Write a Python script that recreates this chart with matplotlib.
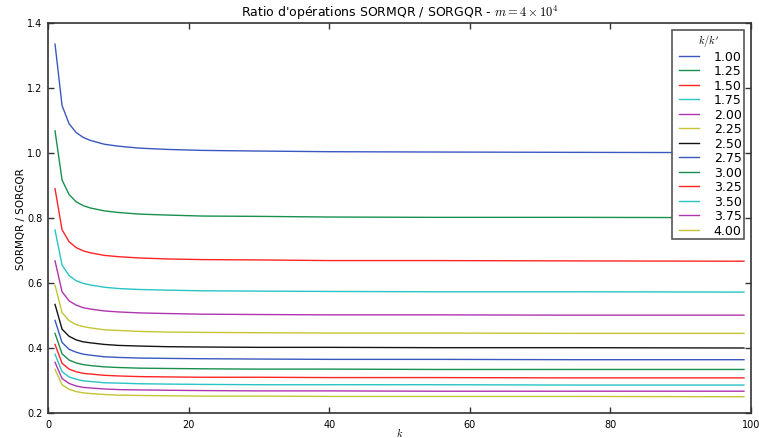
import matplotlib
matplotlib.use("Agg")
import matplotlib.pyplot as plt

# Values of k at which the ratio is plotted
k = [1, 2, 3, 4, 5, 6, 8, 10, 13, 17, 22, 30, 40, 55, 75, 99]

# Ratio of k over k'
ratios = ["1.00", "1.25", "1.50", "1.75", "2.00", "2.25", "2.50",
          "2.75", "3.00", "3.25", "3.50", "3.75", "4.00"]

# SORMQR / SORGQR operation ratio, one list per k/k'
r_100 = [1.335, 1.146, 1.090, 1.063, 1.048, 1.039, 1.027, 1.021, 1.015, 1.011, 1.008, 1.006, 1.004, 1.003, 1.002, 1.001]
r_125 = [1.068, 0.917, 0.872, 0.850, 0.838, 0.831, 0.822, 0.817, 0.812, 0.809, 0.806, 0.805, 0.803, 0.802, 0.802, 0.801]
r_150 = [0.890, 0.764, 0.727, 0.709, 0.699, 0.693, 0.685, 0.681, 0.677, 0.674, 0.672, 0.671, 0.669, 0.669, 0.668, 0.667]
r_175 = [0.763, 0.655, 0.623, 0.607, 0.599, 0.594, 0.587, 0.583, 0.580, 0.578, 0.576, 0.575, 0.574, 0.573, 0.573, 0.572]
r_200 = [0.668, 0.573, 0.545, 0.532, 0.524, 0.520, 0.514, 0.511, 0.508, 0.506, 0.504, 0.503, 0.502, 0.502, 0.501, 0.501]
r_225 = [0.593, 0.509, 0.484, 0.472, 0.466, 0.462, 0.456, 0.454, 0.451, 0.449, 0.448, 0.447, 0.446, 0.446, 0.445, 0.445]
r_250 = [0.534, 0.458, 0.436, 0.425, 0.419, 0.416, 0.411, 0.408, 0.406, 0.404, 0.403, 0.402, 0.402, 0.401, 0.401, 0.400]
r_275 = [0.485, 0.417, 0.396, 0.387, 0.381, 0.378, 0.373, 0.371, 0.369, 0.368, 0.367, 0.366, 0.365, 0.365, 0.364, 0.364]
r_300 = [0.445, 0.382, 0.363, 0.354, 0.349, 0.346, 0.342, 0.340, 0.338, 0.337, 0.336, 0.335, 0.335, 0.334, 0.334, 0.334]
r_325 = [0.411, 0.353, 0.335, 0.327, 0.322, 0.320, 0.316, 0.314, 0.312, 0.311, 0.310, 0.310, 0.309, 0.309, 0.308, 0.308]
r_350 = [0.381, 0.327, 0.311, 0.304, 0.299, 0.297, 0.293, 0.292, 0.290, 0.289, 0.288, 0.287, 0.287, 0.287, 0.286, 0.286]
r_375 = [0.356, 0.306, 0.291, 0.283, 0.279, 0.277, 0.274, 0.272, 0.271, 0.270, 0.269, 0.268, 0.268, 0.267, 0.267, 0.267]
r_400 = [0.334, 0.287, 0.273, 0.266, 0.262, 0.260, 0.257, 0.255, 0.254, 0.253, 0.252, 0.252, 0.251, 0.251, 0.251, 0.250]

series = [r_100, r_125, r_150, r_175, r_200, r_225, r_250,
          r_275, r_300, r_325, r_350, r_375, r_400]

plt.style.use("classic")
plt.rcParams["mathtext.fontset"] = "cm"
plt.rcParams["font.family"] = "DejaVu Sans"

colors = ["#3a58c0", "#18904e", "#ff2424", "#28c4c4", "#b034b0", "#c4c434", "#141414"]

fig = plt.figure(figsize=(7.59, 4.39), dpi=100, facecolor="white")
ax = fig.add_axes([48 / 759, 1 - 414 / 439, (751 - 48) / 759, (414 - 24) / 439])

for i, (lab, vals) in enumerate(zip(ratios, series)):
    ax.plot(k, vals, color=colors[i % len(colors)], lw=1.0, label=lab)

ax.set_xlim(0, 100)
ax.set_ylim(0.2, 1.4)
ax.set_xticks([0, 20, 40, 60, 80, 100])
ax.set_yticks([0.2, 0.4, 0.6, 0.8, 1.0, 1.2, 1.4])
ax.tick_params(labelsize=7, length=4, width=1, color="#333333", pad=4)
for s in ax.spines.values():
    s.set_color("#333333")
    s.set_linewidth(1.2)

ax.set_title(r"Ratio d'opérations SORMQR / SORGQR - $m = 4 \times 10^4$",
             fontsize=9, pad=5)
ax.set_xlabel(r"$k$", fontsize=7.5)
ax.xaxis.set_label_coords(0.5, -0.031)
ax.set_ylabel("SORMQR / SORGQR", fontsize=7.5, labelpad=1)

leg = ax.legend(loc="upper right", fontsize=9, title=r"$k/k'$",
                title_fontsize=7.5, frameon=True, fancybox=False,
                numpoints=2, handlelength=2.2, labelspacing=0.12,
                borderpad=0.2, borderaxespad=0.55, handletextpad=0.9)
leg.get_frame().set_edgecolor("#555555")
leg.get_frame().set_linewidth(1.2)

fig.savefig("out.png", dpi=100, facecolor="white")
